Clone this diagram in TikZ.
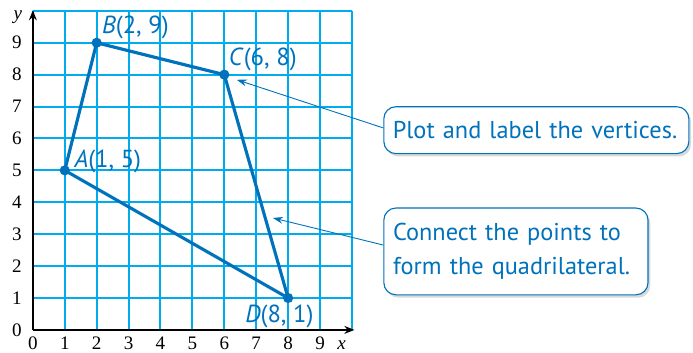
\documentclass[tikz,border=0pt]{standalone}
\usepackage{fontspec}
\setmainfont{Liberation Serif}
\newfontfamily\labelfont{PT Sans}
\usepackage{tikz}
\usetikzlibrary{arrows.meta, shadows}
\definecolor{gridcyan}{RGB}{0,172,237}
\definecolor{mathblue}{RGB}{0,114,188}
\tikzstyle{gridline} = [gridcyan, line width=1.8pt]
\tikzstyle{axis} = [black, line width=1.4pt, -{Stealth[length=9pt,width=7pt]}]
\tikzstyle{side} = [mathblue, line width=2.8pt, line join=round]
\tikzstyle{vertex} = [mathblue, text=mathblue, font=\labelfont\fontsize{22}{26}\selectfont, inner sep=0pt]
\tikzstyle{callout} = [draw=mathblue, line width=1pt, rounded corners=0.38cm, fill=white, text=mathblue,
  font=\labelfont\fontsize{21.7}{30}\selectfont, align=left, inner xsep=0.4cm,
  drop shadow={shadow xshift=0.07cm, shadow yshift=-0.09cm, opacity=0.25, fill=black!60}]
\tikzstyle{callarrow} = [mathblue, line width=0.8pt, -{Stealth[length=9pt,width=6pt]}]

\begin{document}
\begin{tikzpicture}[every node/.style={font=\fontsize{17}{20}\selectfont, inner sep=1pt}]
  \useasboundingbox (-1.03,-0.72) rectangle (20.69,10.34);

  % Grid and axes
  \draw[gridline] (0,0) grid (10,10);
  \draw[axis] (0,0) -- (10.08,0);
  \draw[axis] (0,0) -- (0,10.02);
  \foreach \n in {0,...,9} {
    \node (xt\n) at (\n,-0.43) {\n};
    \node (yt\n) at (-0.5,\n) {\n};
  }
  \node (xlab) at (9.68,-0.47) {\textit{x}};
  \node (ylab) at (-0.47,9.8) {\textit{y}};

  % Vertices
  \coordinate (A) at (1,5);
  \coordinate (B) at (2,9);
  \coordinate (C) at (6,8);
  \coordinate (D) at (8,1);
  \draw[side] (A) -- (B) -- (C) -- (D) -- cycle;
  \foreach \p in {A,B,C,D}
    \fill[mathblue] (\p) circle (0.16);

  \node[vertex, anchor=base west] (Alab) at (1.3,5.08) {\textit{A}(1, 5)};
  \node[vertex, anchor=base west] (Blab) at (2.16,9.3) {\textit{B}(2, 9)};
  \node[vertex, anchor=base west] (Clab) at (6.14,8.28) {\textit{C}(6, 8)};
  \node[vertex, anchor=base west] (Dlab) at (6.65,0.22) {\textit{D}(8, 1)};

  % Callouts
  \node[callout, minimum width=9.56cm, minimum height=1.47cm, text width=9cm, inner xsep=0.28cm] (plotbox) at (15.78,6.26)
    {Plot and label the vertices.};
  \node[callout, minimum width=8.28cm, minimum height=2.72cm, text width=7.7cm, inner xsep=0.29cm] (formbox) at (15.14,2.46)
    {Connect the points to\\form the quadrilateral.};

  \coordinate (ctip) at (6.39,7.84);
  \coordinate (dtip) at (7.52,3.51);
  \draw[callarrow] ([yshift=0.07cm]plotbox.west) -- (ctip);
  \draw[callarrow] ([yshift=0.2cm]formbox.west) -- (dtip);
\end{tikzpicture}
\end{document}
